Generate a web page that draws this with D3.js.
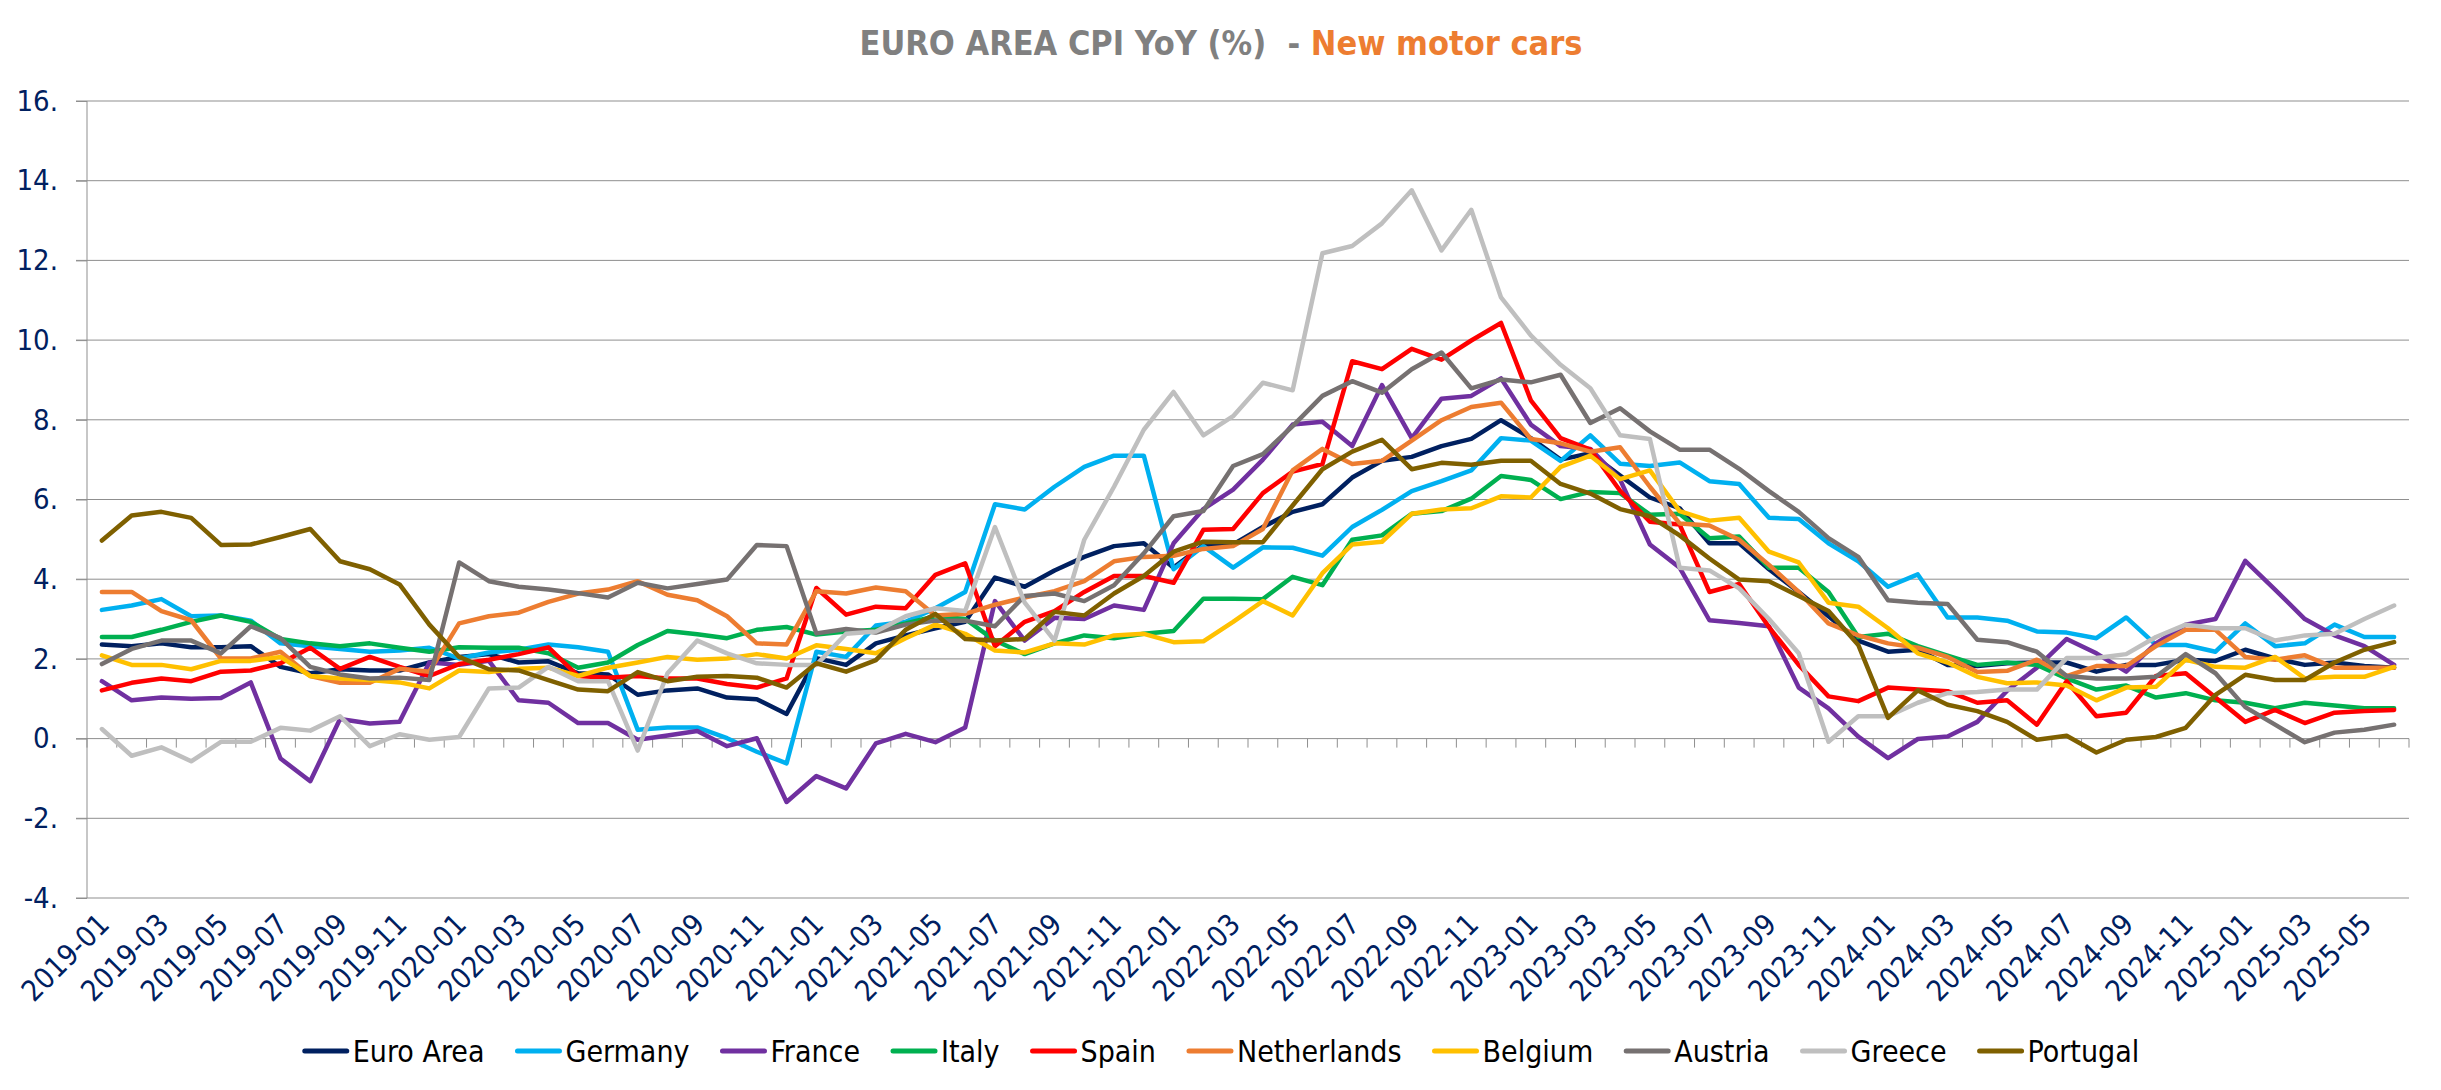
<!DOCTYPE html>
<html>
<head>
<meta charset="utf-8">
<script src="https://cdn.jsdelivr.net/npm/d3@7"></script>
<style>
  html, body { margin: 0; padding: 0; background: #fff; }
  svg text { font-family: "Liberation Sans Narrow", "DejaVu Sans Condensed", "Liberation Sans", sans-serif; }
</style>
</head>
<body>
<script>
// categories: monthly, 2019-01 .. 2025-06
const months = d3.timeMonth.range(new Date(2019, 0, 1), new Date(2025, 6, 1)).map(d3.timeFormat('%Y-%m'))
const yTicks = [-4, -2, 0, 2, 4, 6, 8, 10, 12, 14, 16]

// YoY % values
const euroArea = [2.36, 2.32, 2.39, 2.29, 2.29, 2.32, 1.80, 1.64, 1.74, 1.71, 1.71,
  1.91, 2.05, 2.12, 1.91, 1.94, 1.64, 1.61, 1.10, 1.21, 1.26, 1.03, 0.99, 0.62, 2.02,
  1.85, 2.39, 2.59, 2.77, 2.93, 4.04, 3.81, 4.22, 4.56, 4.83, 4.90, 4.29, 4.86,
  4.87, 5.31, 5.69, 5.88, 6.55, 6.97, 7.07, 7.34, 7.52, 7.99, 7.54, 7.00, 7.16, 6.60,
  6.05, 5.78, 4.90, 4.90, 4.25, 3.68, 3.07, 2.46, 2.18, 2.23, 1.85, 1.82, 1.89,
  1.91, 1.91, 1.68, 1.85, 1.85, 1.98, 1.95, 2.23, 2.01, 1.85, 1.91, 1.82, 1.78]
const germany = [3.23, 3.34, 3.50, 3.07, 3.09, 2.96, 2.39, 2.32, 2.25, 2.18, 2.21,
  2.28, 2.01, 2.16, 2.23, 2.36, 2.29, 2.18, 0.22, 0.28, 0.28, 0.01, -0.33, -0.62, 2.18,
  2.05, 2.84, 2.93, 3.27, 3.68, 5.88, 5.75, 6.32, 6.82, 7.10, 7.10, 4.25, 4.83,
  4.29, 4.80, 4.79, 4.59, 5.31, 5.74, 6.21, 6.46, 6.73, 7.54, 7.48, 6.97, 7.61, 6.90,
  6.84, 6.93, 6.46, 6.39, 5.54, 5.51, 4.90, 4.45, 3.81, 4.12, 3.04, 3.04, 2.96,
  2.69, 2.66, 2.52, 3.04, 2.35, 2.35, 2.18, 2.89, 2.32, 2.39, 2.86, 2.55, 2.55]
const france = [1.44, 0.96, 1.03, 1.00, 1.02, 1.41, -0.50, -1.07, 0.49, 0.38, 0.42,
  1.91, 1.85, 1.95, 0.96, 0.90, 0.39, 0.39, -0.03, 0.08, 0.19, -0.19, 0.01, -1.59, -0.94,
  -1.25, -0.12, 0.12, -0.09, 0.28, 3.45, 2.46, 3.03, 3.00, 3.34, 3.23, 4.90, 5.76,
  6.25, 7.00, 7.88, 7.95, 7.34, 8.87, 7.54, 8.53, 8.60, 9.04, 7.88, 7.34, 7.27, 6.50,
  4.87, 4.29, 2.97, 2.90, 2.82, 1.28, 0.76, 0.05, -0.49, -0.01, 0.05, 0.42, 1.20,
  1.78, 2.50, 2.14, 1.68, 2.39, 2.86, 3.00, 4.46, 3.74, 3.00, 2.59, 2.32, 1.85]
const italy = [2.55, 2.55, 2.73, 2.93, 3.09, 2.93, 2.50, 2.39, 2.32, 2.39, 2.28,
  2.18, 2.29, 2.28, 2.28, 2.14, 1.78, 1.91, 2.35, 2.70, 2.62, 2.52, 2.73, 2.80, 2.61,
  2.69, 2.73, 2.89, 3.07, 3.00, 2.46, 2.12, 2.39, 2.59, 2.52, 2.63, 2.70, 3.51,
  3.51, 3.50, 4.06, 3.85, 4.99, 5.10, 5.64, 5.71, 6.02, 6.59, 6.49, 6.01, 6.19, 6.16,
  5.62, 5.64, 5.03, 5.07, 4.29, 4.29, 3.68, 2.55, 2.63, 2.32, 2.08, 1.85, 1.91,
  1.85, 1.51, 1.23, 1.33, 1.03, 1.14, 0.96, 0.90, 0.76, 0.90, 0.83, 0.76, 0.76]
const spain = [1.21, 1.40, 1.51, 1.44, 1.68, 1.71, 1.89, 2.28, 1.75, 2.05, 1.80,
  1.57, 1.87, 1.98, 2.12, 2.29, 1.57, 1.53, 1.57, 1.51, 1.51, 1.37, 1.28, 1.51, 3.78,
  3.11, 3.31, 3.27, 4.11, 4.40, 2.32, 2.93, 3.20, 3.68, 4.08, 4.08, 3.91, 5.24,
  5.26, 6.16, 6.70, 6.89, 9.47, 9.27, 9.78, 9.51, 9.99, 10.43, 8.49, 7.54, 7.25, 6.22,
  5.44, 5.37, 3.68, 3.88, 2.80, 1.85, 1.06, 0.94, 1.28, 1.23, 1.19, 0.90, 0.96,
  0.35, 1.44, 0.56, 0.65, 1.57, 1.64, 1.03, 0.42, 0.72, 0.39, 0.65, 0.69, 0.72]
const netherlands = [3.68, 3.68, 3.20, 2.97, 2.01, 2.01, 2.18, 1.57, 1.40, 1.40, 1.75,
  1.68, 2.89, 3.07, 3.16, 3.43, 3.64, 3.74, 3.95, 3.61, 3.47, 3.07, 2.39, 2.36, 3.70,
  3.64, 3.79, 3.70, 3.09, 3.13, 3.36, 3.54, 3.70, 3.95, 4.45, 4.56, 4.59, 4.76,
  4.83, 5.26, 6.73, 7.27, 6.89, 6.97, 7.48, 7.99, 8.32, 8.43, 7.52, 7.41, 7.20, 7.31,
  6.32, 5.40, 5.35, 4.99, 4.36, 3.68, 2.89, 2.59, 2.39, 2.28, 2.05, 1.67, 1.70,
  1.98, 1.57, 1.82, 1.82, 2.32, 2.73, 2.73, 2.05, 1.98, 2.09, 1.78, 1.78, 1.78]
const belgium = [2.09, 1.85, 1.85, 1.74, 1.95, 1.95, 2.05, 1.57, 1.51, 1.47, 1.41,
  1.26, 1.71, 1.67, 1.75, 1.78, 1.57, 1.78, 1.91, 2.05, 1.98, 2.01, 2.12, 2.01, 2.34,
  2.25, 2.14, 2.52, 2.86, 2.63, 2.21, 2.16, 2.39, 2.36, 2.59, 2.63, 2.42, 2.44,
  2.93, 3.45, 3.09, 4.15, 4.87, 4.94, 5.64, 5.75, 5.78, 6.08, 6.05, 6.82, 7.10, 6.51,
  6.73, 5.71, 5.47, 5.54, 4.69, 4.42, 3.41, 3.31, 2.77, 2.14, 1.91, 1.55, 1.39,
  1.41, 1.33, 0.96, 1.28, 1.30, 1.98, 1.80, 1.78, 2.05, 1.51, 1.55, 1.55, 1.80]
const austria = [1.87, 2.25, 2.46, 2.46, 2.14, 2.82, 2.52, 1.80, 1.61, 1.51, 1.53,
  1.47, 4.42, 3.95, 3.81, 3.74, 3.65, 3.54, 3.91, 3.77, 3.88, 3.99, 4.86, 4.83, 2.64,
  2.75, 2.66, 2.86, 2.96, 2.96, 2.82, 3.58, 3.64, 3.45, 3.85, 4.65, 5.58, 5.71,
  6.84, 7.14, 7.84, 8.60, 8.97, 8.68, 9.27, 9.69, 8.79, 9.01, 8.94, 9.13, 7.92, 8.29,
  7.71, 7.25, 7.25, 6.77, 6.21, 5.69, 5.03, 4.56, 3.47, 3.41, 3.38, 2.48, 2.42,
  2.18, 1.57, 1.51, 1.51, 1.55, 2.12, 1.64, 0.79, 0.35, -0.09, 0.15, 0.22, 0.35]
const greece = [0.24, -0.43, -0.22, -0.57, -0.08, -0.08, 0.27, 0.20, 0.56, -0.19, 0.11,
  -0.03, 0.04, 1.26, 1.28, 1.80, 1.44, 1.44, -0.30, 1.64, 2.46, 2.14, 1.89, 1.85, 1.85,
  2.63, 2.69, 3.07, 3.27, 3.20, 5.31, 3.41, 2.46, 4.99, 6.32, 7.75, 8.70, 7.61,
  8.09, 8.93, 8.74, 12.18, 12.36, 12.93, 13.76, 12.25, 13.27, 11.07, 10.12, 9.38, 8.79, 7.61,
  7.52, 4.29, 4.22, 3.77, 3.00, 2.14, -0.08, 0.56, 0.56, 0.90, 1.14, 1.17, 1.23,
  1.23, 2.02, 2.02, 2.12, 2.55, 2.86, 2.77, 2.77, 2.46, 2.59, 2.63, 3.00, 3.34]
const portugal = [4.97, 5.60, 5.69, 5.54, 4.86, 4.87, 5.06, 5.26, 4.45, 4.25, 3.87,
  2.86, 2.05, 1.74, 1.71, 1.47, 1.23, 1.19, 1.67, 1.44, 1.55, 1.57, 1.53, 1.28, 1.89,
  1.68, 1.97, 2.73, 3.13, 2.50, 2.46, 2.50, 3.18, 3.09, 3.64, 4.08, 4.69, 4.94,
  4.93, 4.93, 5.85, 6.76, 7.20, 7.50, 6.76, 6.92, 6.87, 6.97, 6.97, 6.39, 6.15, 5.76,
  5.58, 5.10, 4.52, 3.99, 3.95, 3.58, 3.20, 2.35, 0.52, 1.21, 0.85, 0.69, 0.42,
  -0.03, 0.07, -0.35, -0.03, 0.04, 0.27, 1.10, 1.60, 1.47, 1.47, 1.91, 2.23, 2.42]

const seriesNames = ['Euro Area', 'Germany', 'France', 'Italy', 'Spain', 'Netherlands', 'Belgium', 'Austria', 'Greece', 'Portugal']
const seriesValues = [euroArea, germany, france, italy, spain, netherlands, belgium, austria, greece, portugal]
const seriesColors = ['#002060', '#00B0F0', '#7030A0', '#00B050', '#FF0000', '#ED7D31', '#FFC000', '#767171', '#BFBFBF', '#7F6000']

const series = seriesNames.map((name, k) => ({ name, color: seriesColors[k], values: seriesValues[k] }))

let width = 2441, height = 1090
let plotLeft = 87, plotRight = 2409, plotTop = 101, plotBottom = 898
const navy = '#002060'
const gridColor = '#8f8f8f'

let svg = d3.select('body').append('svg')
  .attr('width', width)
  .attr('height', height)

let x = d3.scaleBand().domain(months).range([plotLeft, plotRight])
let y = d3.scaleLinear().domain([-4, 16]).range([plotBottom, plotTop])
const cx = m => x(m) + x.bandwidth() / 2

// Title
let title = svg.append('text')
  .attr('x', 1221)
  .attr('y', 55)
  .attr('text-anchor', 'middle')
  .style('font-size', '34px')
  .style('font-weight', 'bold')
title.append('tspan').attr('fill', '#808080').text('EURO AREA CPI YoY (%)\u00a0 - ')
title.append('tspan').attr('fill', '#ED7D31').text('New motor cars')

// gridlines
svg.append('g').attr('id', 'grid')
  .selectAll('line').data(yTicks).join('line')
    .attr('x1', plotLeft - 11)
    .attr('x2', plotRight)
    .attr('y1', d => y(d))
    .attr('y2', d => y(d))
    .attr('stroke', gridColor)
    .attr('stroke-width', 1)

// y axis
let yAxis = svg.append('g')
  .attr('transform', `translate(${plotLeft},0)`)
  .call(d3.axisLeft(y).tickValues(yTicks).tickSize(11).tickPadding(18).tickFormat(d => d + '.'))
yAxis.select('.domain').remove()
yAxis.selectAll('line').attr('stroke', gridColor)
yAxis.selectAll('text')
  .attr('fill', navy)
  .style('font-size', '29px')
svg.append('line')
  .attr('x1', plotLeft).attr('x2', plotLeft)
  .attr('y1', y(16)).attr('y2', y(-4))
  .attr('stroke', gridColor).attr('stroke-width', 1)

// x ticks on the zero line, at month boundaries
let boundaries = months.map(m => x(m)).concat([plotRight])
svg.append('g').attr('id', 'xticks')
  .selectAll('line').data(boundaries).join('line')
    .attr('x1', d => d).attr('x2', d => d)
    .attr('y1', y(0)).attr('y2', y(0) + 9)
    .attr('stroke', gridColor)
    .attr('stroke-width', 1)

// x labels, every second month
svg.append('g').attr('id', 'xlabels')
  .selectAll('text').data(months.filter((m, i) => i % 2 === 0)).join('text')
    .attr('transform', m => `translate(${cx(m) + 9},${926}) rotate(-45)`)
    .attr('text-anchor', 'end')
    .attr('fill', navy)
    .style('font-size', '29px')
    .text(m => m)

// lines
const line = d3.line().x((d, i) => cx(months[i])).y(d => y(d))
svg.append('g').attr('id', 'series')
  .selectAll('path').data(series).join('path')
    .attr('d', s => line(s.values))
    .attr('fill', 'none')
    .attr('stroke', s => s.color)
    .attr('stroke-width', 4.5)
    .attr('stroke-linejoin', 'round')
    .attr('stroke-linecap', 'round')

// legend
let legend = svg.append('g').attr('id', 'legend')
let items = legend.selectAll('g').data(series).join('g')
items.append('line')
  .attr('x1', 0).attr('x2', 42)
  .attr('y1', 0).attr('y2', 0)
  .attr('stroke', s => s.color)
  .attr('stroke-width', 5)
  .attr('stroke-linecap', 'round')
items.append('text')
  .attr('x', 48)
  .attr('y', 0)
  .attr('dy', '0.35em')
  .attr('fill', '#000')
  .style('font-size', '30px')
  .text(s => s.name)
const gap = 33
let pos = 0, offsets = []
items.each(function () {
  offsets.push(pos)
  pos += 48 + this.querySelector('text').getComputedTextLength() + gap
})
let legendWidth = pos - gap
let legendStart = 1222 - legendWidth / 2
items.attr('transform', (s, i) => `translate(${legendStart + offsets[i]},${1051})`)
</script>
</body>
</html>
